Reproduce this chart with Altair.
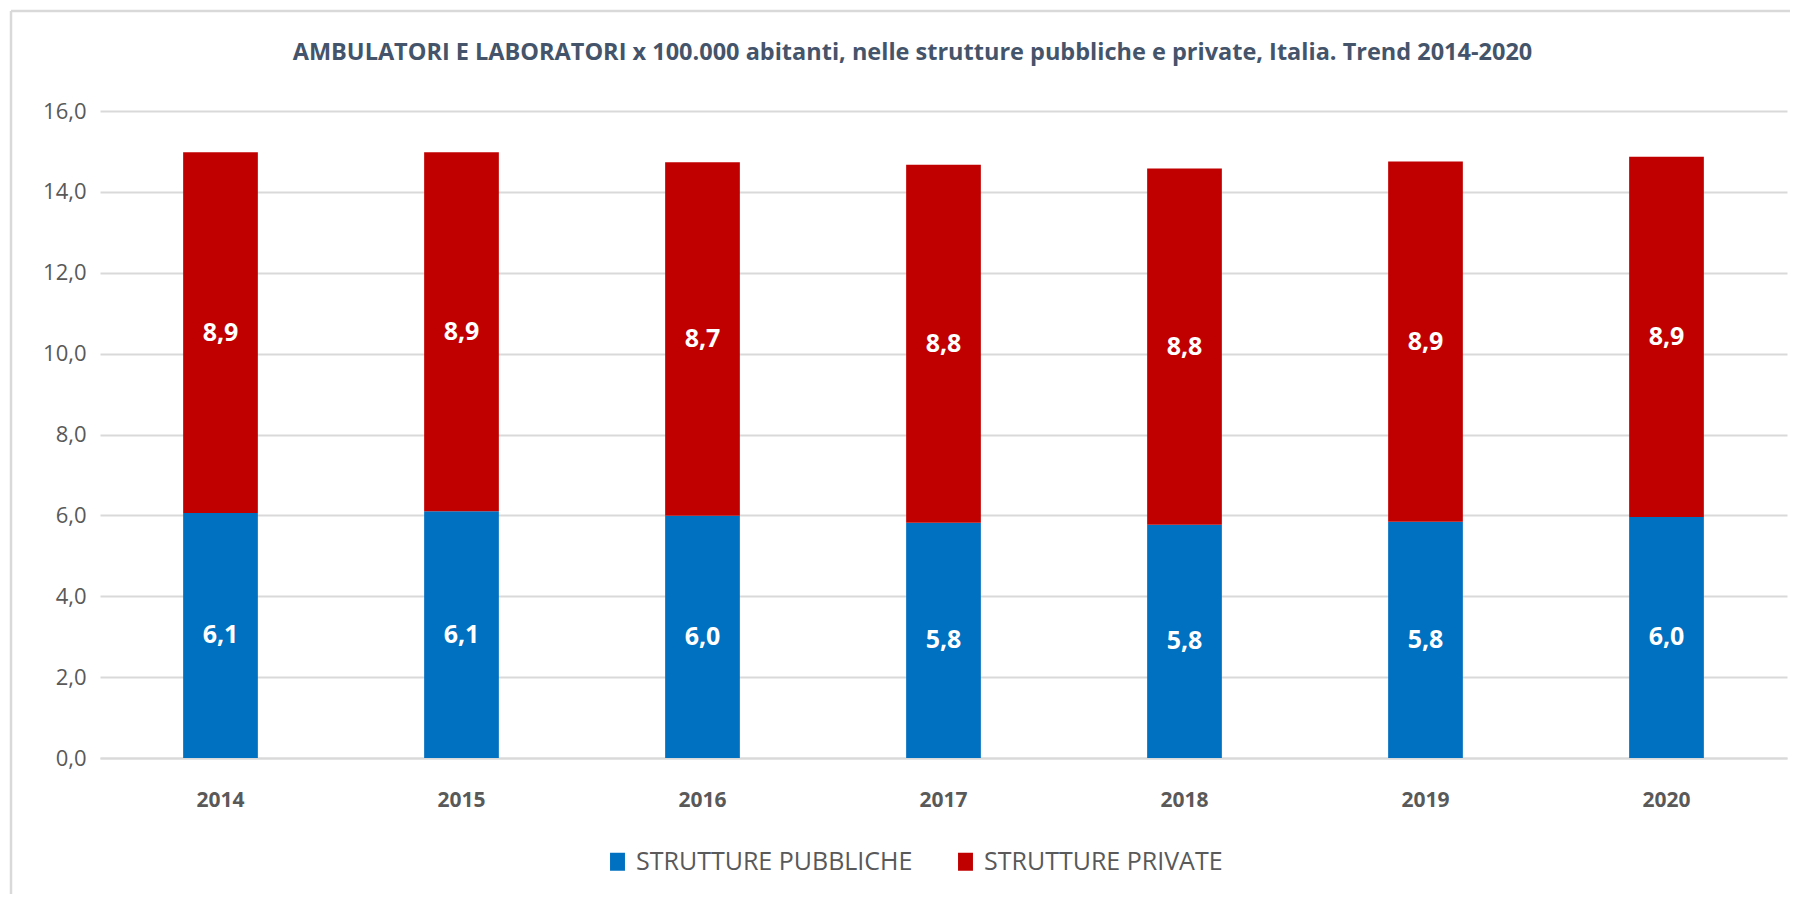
import altair as alt
import pandas as pd

years = ["2014", "2015", "2016", "2017", "2018", "2019", "2020"]
pubbliche = [6.06, 6.10, 5.99, 5.82, 5.77, 5.84, 5.96]
private = [8.92, 8.88, 8.74, 8.85, 8.81, 8.91, 8.91]
series = ["STRUTTURE PUBBLICHE", "STRUTTURE PRIVATE"]
colors = ["#0070C0", "#C00000"]
title_text = "AMBULATORI E LABORATORI x 100.000 abitanti, nelle strutture pubbliche e private, Italia. Trend 2014-2020"

rows = []
for i, y in enumerate(years):
    rows.append({"anno": y, "serie": series[0], "valore": pubbliche[i], "ordine": 0})
    rows.append({"anno": y, "serie": series[1], "valore": private[i], "ordine": 1})
df = pd.DataFrame(rows)

FONT = "Open Sans"
GRID = "#D9D9D9"
TXT = "#595959"

x_enc = alt.X(
    "anno:N",
    scale=alt.Scale(paddingInner=0.69, paddingOuter=0.345),
    axis=alt.Axis(
        title=None, labelAngle=0, ticks=False, domain=True, domainColor=GRID,
        domainWidth=2, labelFont=FONT, labelFontWeight="bold", labelFontSize=21,
        labelColor=TXT, labelPadding=31, grid=False,
    ),
)

bars = alt.Chart(df).mark_bar().encode(
    x=x_enc,
    y=alt.Y(
        "valore:Q", stack="zero",
        scale=alt.Scale(domain=[0, 16], nice=False),
        axis=alt.Axis(
            title=None, values=[0, 2, 4, 6, 8, 10, 12, 14, 16],
            labelExpr="replace(format(datum.value, '.1f'), '.', ',')",
            ticks=False, domain=False, grid=True, gridColor=GRID, gridWidth=2,
            labelFont=FONT, labelFontSize=22, labelColor=TXT, labelPadding=14,
        ),
    ),
    color=alt.Color(
        "serie:N", scale=alt.Scale(domain=series, range=colors),
        legend=alt.Legend(
            title=None, orient="none", direction="horizontal",
            legendX=505, legendY=738,
            symbolType="M-0.83,-1H0.83V1H-0.83Z", symbolSize=324,
            symbolStrokeWidth=0, labelFont=FONT, labelFontSize=25,
            labelColor=TXT, labelOffset=6, columnPadding=40, labelLimit=0,
        ),
    ),
    order=alt.Order("ordine:Q"),
)

labels = alt.Chart(df).transform_window(
    cum="sum(valore)", groupby=["anno"], sort=[alt.SortField("ordine")]
).transform_calculate(
    mid="datum.cum - datum.valore / 2",
    label="replace(format(datum.valore, '.1f'), '.', ',')",
).mark_text(
    color="white", font=FONT, fontWeight="bold", fontSize=25, baseline="middle"
).encode(
    x=alt.X("anno:N"),
    y=alt.Y("mid:Q"),
    text="label:N",
)

frame_df = pd.DataFrame({"k": [0]})
frame_top = alt.Chart(frame_df).mark_rule(color=GRID, strokeWidth=2.5).encode(
    x=alt.value(-89), x2=alt.value(1698), y=alt.value(-100)
)
frame_left = alt.Chart(frame_df).mark_rule(color=GRID, strokeWidth=2.5).encode(
    x=alt.value(-89), y=alt.value(-100), y2=alt.value(791)
)

chart = alt.layer(bars, labels, frame_top, frame_left).properties(
    width=1687, height=647,
    title=alt.TitleParams(
        text=title_text, font=FONT, fontSize=23.5, fontWeight="bold",
        color="#44546A", anchor="middle", frame="group", dx=-31, offset=-55,
    ),
    autosize=alt.AutoSizeParams(type="none"),
    padding={"left": 92, "top": 103, "right": 3, "bottom": 136},
).configure_view(stroke=None)

chart.save("out.html", embed_options={"renderer": "svg", "actions": False})
